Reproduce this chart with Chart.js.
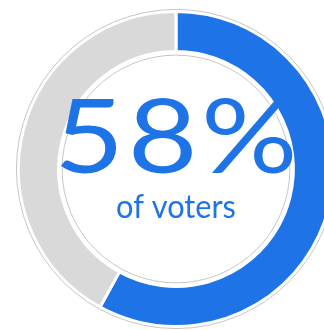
<!DOCTYPE html>
<html>
<head>
<meta charset="utf-8">
<script src="https://cdn.jsdelivr.net/npm/chart.js@4"></script>
<style>
  html, body { margin: 0; padding: 0; background: #fff; overflow: hidden; }
  #wrap { position: absolute; left: 0; top: 0; width: 324px; height: 330px; overflow: hidden; }
  #votos { position: absolute; left: 0; top: 0; }
</style>
</head>
<body>
<div id="wrap"><canvas id="votos" width="352" height="338"></canvas></div>
<script>
const categorias = ["of voters", "rest"]
const valores = [58, 42]
const colores = ["#1e74e7", "#d9d9d9"]
const subtitulo = "of voters"

// circulos grises finos por fuera y por dentro del anillo + texto central
const marcoYTexto = {
  id: "marcoYTexto",
  afterDatasetsDraw(chart) {
    const arco = chart.getDatasetMeta(0).data[0]
    if (!arco) return
    const { x, y, outerRadius, innerRadius } = arco
    const ctx = chart.ctx
    ctx.save()
    ctx.strokeStyle = "#c6c6c6"
    ctx.lineWidth = 1
    ctx.beginPath()
    ctx.arc(x, y, outerRadius + 2, 0, Math.PI * 2)
    ctx.stroke()
    ctx.beginPath()
    ctx.arc(x, y, innerRadius - 3.5, 0, Math.PI * 2)
    ctx.stroke()

    ctx.fillStyle = colores[0]
    ctx.textAlign = "center"
    ctx.textBaseline = "alphabetic"

    // porcentaje grande, un poco ensanchado
    ctx.save()
    ctx.translate(x, y + 4)
    ctx.scale(1.17, 1)
    ctx.font = "400 103px Lato"
    ctx.letterSpacing = "3px"
    ctx.fillText(valores[0] + "%", 1.5, 0)
    ctx.restore()

    ctx.save()
    ctx.translate(x, y + 49)
    ctx.scale(0.96, 1)
    ctx.font = "400 32px Lato"
    ctx.fillText(subtitulo, 0, 0)
    ctx.restore()
    ctx.restore()
  },
}

new Chart(document.getElementById("votos"), {
  type: "doughnut",
  data: {
    labels: categorias,
    datasets: [
      {
        data: valores,
        backgroundColor: colores,
        borderColor: "#ffffff",
        borderWidth: 3,
        hoverOffset: 0,
      },
    ],
  },
  options: {
    responsive: false,
    animation: false,
    radius: "98.8%",
    cutout: "74.5%",
    layout: { padding: 8 },
    plugins: {
      legend: { display: false },
      tooltip: { enabled: false },
    },
  },
  plugins: [marcoYTexto],
})
</script>
</body>
</html>
